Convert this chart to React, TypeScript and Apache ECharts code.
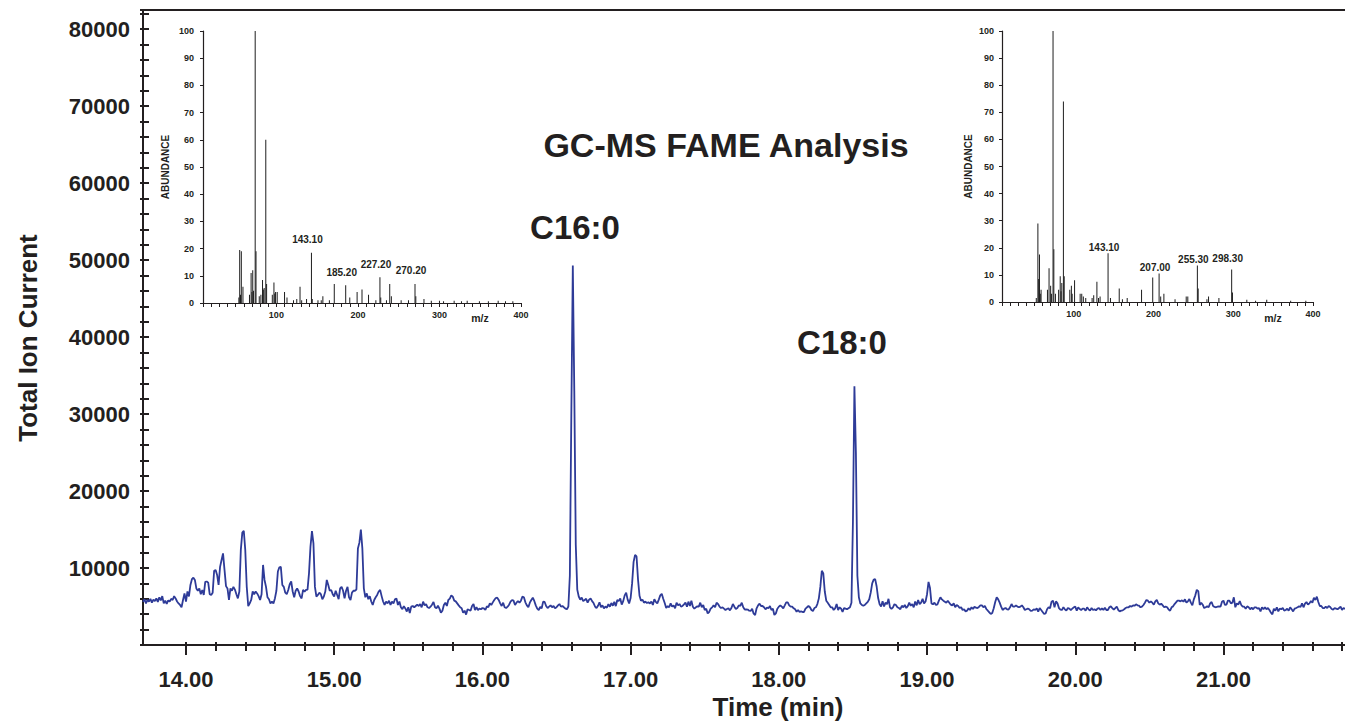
import React, { useEffect, useRef } from 'react';
import * as echarts from 'echarts';

// ---------------- DATA ----------------
// Total ion current chromatogram, sampled every 0.01 min from 13.71 min
const startMinute = 13.71;
const minuteStep = 0.01;
const ticCounts = [
  5600, 5950, 5400, 5850, 5650, 6000, 5500, 5900, 5700, 6050,
  5600, 6200, 5800, 6350, 5400, 5750, 5350, 5800, 5650, 6000,
  5850, 6350, 6050, 5650, 5400, 5200, 4900, 5850, 6700, 5650,
  6950, 6300, 7800, 8550, 8750, 8450, 7350, 7050, 7350, 6600,
  7150, 6500, 8200, 8250, 8100, 6600, 6500, 6800, 9650, 9750,
  9100, 7800, 10150, 11050, 11900, 9750, 7650, 7350, 5850, 7350,
  7050, 7550, 7200, 6600, 6050, 6950, 12350, 14600, 14850, 12350,
  7550, 5050, 5400, 5850, 6950, 6600, 6950, 6700, 6350, 5850,
  6600, 10400, 8450, 7550, 6200, 5950, 5400, 5650, 5400, 6050,
  7050, 9550, 10100, 10150, 7800, 7550, 6800, 6600, 7150, 7900,
  8250, 6950, 6200, 7050, 7350, 6950, 6350, 6050, 7150, 6950,
  7150, 7200, 9300, 12800, 14800, 13200, 7550, 6300, 6500, 6800,
  6600, 5950, 6300, 6950, 8450, 7800, 7050, 7150, 6600, 6300,
  7050, 6500, 5950, 7350, 7550, 7050, 6050, 7050, 7550, 6200,
  5850, 6800, 7050, 7050, 7200, 12550, 13300, 15000, 12550, 7350,
  6200, 6700, 5950, 6350, 5650, 5200, 5850, 6200, 6500, 6950,
  7150, 6350, 5650, 5200, 5650, 5400, 5750, 5200, 5650, 5400,
  5950, 6050, 5200, 5650, 4900, 4650, 5050, 4750, 4350, 4900,
  4150, 4980, 5070, 4900, 5070, 5240, 5070, 5320, 4900, 5630,
  5150, 5320, 4900, 4800, 4980, 5240, 5600, 4900, 4770, 5100,
  4720, 4200, 4460, 5200, 5500, 5070, 5850, 6020, 6450, 6280,
  5760, 5670, 5410, 5150, 4900, 4770, 4200, 4460, 3950, 4640,
  4550, 4460, 5070, 5320, 4550, 4900, 4550, 4720, 4640, 4800,
  4770, 4550, 5020, 4900, 5410, 5200, 5540, 5850, 6100, 6150,
  5850, 5410, 5070, 5500, 4900, 4800, 4980, 5240, 5630, 5850,
  5760, 5200, 5500, 5720, 5500, 5760, 6280, 6200, 5540, 5150,
  4900, 5500, 5850, 6150, 5720, 5150, 4720, 4550, 4940, 4770,
  5630, 5590, 5070, 4800, 4980, 5150, 4900, 5070, 4770, 4900,
  5150, 5320, 4980, 5070, 4900, 4720, 4640, 5000, 9000, 30000,
  49300, 33000, 13000, 7200, 6300, 5900, 6150, 5700, 5850, 6000,
  5500, 5900, 6050, 5700, 5450, 5000, 4800, 5100, 5550, 4900,
  5150, 4750, 5000, 4850, 5300, 4980, 5450, 5100, 5600, 5050,
  5850, 5700, 6050, 5250, 5700, 6450, 6800, 5900, 5400, 6100,
  8000, 10800, 11700, 11500, 8500, 6400, 5750, 5900, 5500, 5650,
  5450, 5550, 5400, 5650, 5200, 5950, 5600, 5400, 5900, 6450,
  6650, 6000, 5450, 4800, 5050, 4900, 5400, 4980, 5150, 4770,
  5500, 5150, 5320, 4980, 5070, 5280, 5500, 4980, 5630, 5070,
  5760, 4980, 4720, 4900, 5020, 4980, 5500, 4900, 5200, 4550,
  4720, 4110, 4290, 4720, 4900, 5150, 4900, 5500, 5320, 4980,
  4800, 4900, 4720, 4550, 4680, 4770, 4500, 4800, 5320, 4980,
  4680, 4800, 5150, 5070, 5500, 4900, 4600, 4640, 4600, 4460,
  4420, 4720, 4070, 3900, 4770, 5150, 5370, 5070, 5070, 4900,
  4640, 4850, 4770, 5070, 4550, 4720, 3900, 4110, 4720, 4980,
  5150, 4980, 4770, 5150, 5540, 5540, 5150, 4980, 4980, 4770,
  4640, 4330, 4550, 4290, 4370, 4290, 4290, 4720, 4900, 5070,
  4900, 4550, 4420, 4800, 4900, 5320, 6060, 7550, 9650, 9300,
  6950, 5760, 5500, 5200, 4900, 4900, 4550, 4770, 5320, 4550,
  4900, 4720, 4290, 4800, 4720, 4640, 4770, 4900, 5500, 16000,
  33600, 25000, 9000, 6200, 5400, 5200, 5100, 5200, 5400, 5600,
  5950, 6800, 8000, 8500, 8550, 7600, 6100, 5300, 5000, 5700,
  5000, 5500, 5300, 6000, 4900, 4700, 4900, 5300, 5200, 4900,
  4800, 4650, 5100, 4900, 5200, 4800, 5050, 5500, 5100, 5300,
  4900, 5650, 5150, 5850, 5300, 5500, 6000, 5400, 5650, 6600,
  8200, 7400, 5400, 5280, 5500, 5200, 5280, 5760, 6190, 5930,
  5760, 5630, 5500, 5760, 5500, 5240, 5150, 5410, 4900, 5200,
  5070, 4800, 4900, 4550, 4640, 4370, 4460, 4770, 4550, 4900,
  4680, 4980, 4850, 4800, 4940, 5150, 5150, 4900, 5070, 4680,
  4460, 4250, 4030, 4160, 4770, 5590, 6190, 5930, 5500, 4980,
  4550, 4720, 4800, 4640, 4600, 4900, 5320, 4980, 4980, 5150,
  4980, 4900, 4980, 5150, 4900, 4550, 4640, 4720, 4640, 4420,
  4460, 4640, 4550, 4770, 4330, 4800, 4550, 4290, 4030, 4110,
  4640, 4900, 4770, 5630, 5760, 4900, 5670, 5410, 4800, 4600,
  4550, 4900, 4640, 4460, 4800, 4720, 4550, 4720, 4900, 4980,
  4460, 4900, 4680, 4550, 4720, 4720, 4460, 4900, 4640, 4460,
  4800, 4550, 4640, 4500, 4720, 4800, 4550, 4770, 4550, 4850,
  4550, 4550, 4900, 5020, 4800, 4600, 4800, 4980, 4550, 4370,
  4460, 4500, 4640, 4800, 4900, 4900, 5070, 4980, 5150, 5100,
  5280, 5150, 5100, 4900, 4980, 5200, 5500, 5850, 5760, 5500,
  5670, 5500, 5240, 5670, 5850, 5410, 5240, 5370, 5150, 4900,
  4980, 4900, 4600, 4460, 4900, 5020, 5320, 5540, 5760, 5760,
  5670, 5800, 5630, 5930, 5500, 5670, 5970, 5500, 5150, 5930,
  6450, 7170, 7000, 5200, 5500, 5240, 4800, 4900, 5020, 4900,
  5410, 5590, 5070, 4940, 4900, 4980, 5020, 4980, 5630, 5760,
  5200, 5240, 5760, 5760, 5410, 5500, 6190, 4900, 5410, 5240,
  5720, 5200, 4980, 4980, 4720, 5020, 4900, 4640, 4850, 4640,
  4900, 4900, 4720, 4800, 4370, 4900, 4640, 4900, 4640, 4800,
  4550, 4200, 3990, 4720, 4460, 4900, 4370, 4720, 4640, 4800,
  4460, 4550, 4720, 4460, 4900, 4640, 4370, 4720, 4800, 4900,
  5020, 4940, 5410, 4900, 5370, 5590, 5240, 5410, 5720, 5500,
  6150, 5850, 6280, 5590, 5070, 5070, 4800, 4800, 4980, 4800,
  5070, 4940, 4680, 4600, 4800, 4720, 4640, 4800, 4980, 4550,
  4800, 4720, 4640,
];

// axis ranges and tick labels
const timeMin = 13.71;
const timeMax = 21.82;
const timeMajorTicks = [14, 15, 16, 17, 18, 19, 20, 21];
const timeMinorTicks = [
  14.2, 14.4, 14.6, 14.8, 15.2, 15.4, 15.6, 15.8, 16.2, 16.4, 16.6, 16.8,
  17.2, 17.4, 17.6, 17.8, 18.2, 18.4, 18.6, 18.8, 19.2, 19.4, 19.6, 19.8,
  20.2, 20.4, 20.6, 20.8, 21.2, 21.4, 21.6, 21.8,
];
const ticMax = 82500;

// Peak annotations
const peakNames = ['C16:0', 'C18:0'];

// Inset 1 : mass spectrum of C16:0
const spec1Mz = [54, 55, 56, 57, 59, 67, 69, 70, 71, 72, 74, 75, 79, 81, 83, 84, 85, 87, 88, 95, 97, 98, 99, 101, 110, 113, 121, 125, 129, 131, 137, 143, 144, 151, 155, 157, 165, 171, 185, 190, 199, 205, 213, 222, 227, 228, 235, 239, 241, 253, 262, 270, 271, 281, 290, 300, 305, 318, 327, 334, 349, 360, 372, 381, 390];
const spec1Ab = [2, 19.5, 3, 19, 6, 3, 11, 4, 12, 4.5, 100, 19, 2.5, 3, 8.5, 5, 5.5, 60, 7, 3, 7.5, 3.5, 4, 4, 4, 2, 1, 1.5, 6, 1, 1.5, 18.5, 1.5, 1, 1, 2.5, 1, 7, 6.5, 2, 4, 5, 3, 1, 9.5, 2, 1, 7, 2.5, 1, 1, 7, 2.5, 1.5, 0.8, 0.8, 0.6, 0.8, 0.6, 0.8, 0.6, 0.6, 0.8, 0.6, 0.6];
const spec1LabelMz = [143, 185, 227, 270];
const spec1LabelText = ['143.10', '185.20', '227.20', '270.20'];
const spec1LabelGap = [8, 8, 8, 8];

// Inset 2 : mass spectrum of C18:0
const spec2Mz = [53, 55, 56, 57, 58, 59, 67, 69, 71, 72, 74, 75, 77, 81, 83, 84, 85, 87, 88, 95, 97, 98, 101, 108, 110, 112, 115, 123, 125, 129, 131, 133, 143, 146, 157, 161, 167, 185, 199, 207, 209, 213, 227, 241, 243, 255, 256, 267, 269, 282, 298, 299, 317, 328, 342, 372, 391];
const spec2Ab = [1.5, 29, 8.5, 17.5, 3, 4.5, 4.5, 12.5, 6, 3, 100, 19.5, 3, 4.5, 9.5, 4, 7, 74, 9.5, 4.5, 6, 3, 8, 3, 3, 2, 1.5, 1.5, 2.5, 7.5, 1.5, 2, 18, 1.5, 5, 1, 1.5, 4.5, 9, 10.5, 2, 3, 1, 2, 2, 13.5, 5, 1, 2, 1.5, 12, 3.5, 0.8, 0.5, 0.8, 0.5, 0.5];
const spec2LabelMz = [143, 207, 255, 298];
const spec2LabelText = ['143.10', '207.00', '255.30', '298.30'];
const spec2LabelGap = [1, 1, 1, 6];

// ---------------- STYLE ----------------
const FONT = '"Liberation Sans", Arial, Helvetica, sans-serif';
const INK = '#231f20';
const TRACE = '#2e3b98';

function specData(mz: number[], ab: number[], lMz: number[], lText: string[], lGap: number[]) {
  return mz.map((m, i) => {
    const k = lMz.indexOf(m);
    if (k < 0) return [m, ab[i]];
    return {
      value: [m, ab[i]],
      label: {
        show: true,
        position: 'top',
        distance: lGap[k],
        offset: [-4, 0],
        formatter: lText[k],
        fontSize: 10,
        fontWeight: 'bold',
        fontFamily: FONT,
        color: INK,
      },
    };
  });
}

function insetX(gridIndex: number) {
  return {
    gridIndex,
    type: 'value',
    min: 10,
    max: 400,
    interval: 10,
    position: 'bottom',
    axisLine: { show: true, onZero: false, lineStyle: { color: INK, width: 1.2 } },
    axisTick: { show: true, length: 4, lineStyle: { color: INK, width: 1 } },
    axisLabel: {
      margin: 7,
      fontSize: 9,
      fontWeight: 'bold',
      fontFamily: FONT,
      color: INK,
      formatter: (v: number) => (v % 100 === 0 ? String(v) : ''),
    },
    splitLine: { show: false },
  };
}

function insetY(gridIndex: number, gap: number, margin: number) {
  return {
    gridIndex,
    type: 'value',
    min: 0,
    max: 100,
    interval: 10,
    name: 'ABUNDANCE',
    nameLocation: 'middle',
    nameRotate: 90,
    nameGap: gap,
    nameTextStyle: { fontSize: 10, fontWeight: 'bold', fontFamily: FONT, color: INK },
    axisLine: { show: true, onZero: false, lineStyle: { color: INK, width: 1.2 } },
    axisTick: { show: true, length: 3, lineStyle: { color: INK, width: 1 } },
    axisLabel: { margin, fontSize: 9, fontWeight: 'bold', fontFamily: FONT, color: INK },
    splitLine: { show: false },
  };
}

function buildOption() {
  const trace = ticCounts.map((v, i) => [+(startMinute + i * minuteStep).toFixed(2), v]);
  const axisLineStyle = { color: INK, width: 2 };
  return {
    animation: false,
    backgroundColor: '#ffffff',
    textStyle: { fontFamily: FONT },
    grid: [
      { left: 143, top: 10, width: 1202, height: 635 },
      { left: 203, top: 31, width: 318, height: 272 },
      { left: 1002, top: 31, width: 311, height: 271 },
    ],
    xAxis: [
      {
        gridIndex: 0, type: 'value', min: timeMin, max: timeMax, position: 'bottom',
        axisLine: { show: true, onZero: false, lineStyle: axisLineStyle },
        axisTick: { show: true, customValues: timeMajorTicks, length: 10, lineStyle: { color: INK, width: 2 } },
        axisLabel: {
          customValues: timeMajorTicks,
          formatter: (v: number) => v.toFixed(2),
          margin: 23, fontSize: 22, fontWeight: 'bold', fontFamily: FONT, color: INK,
        },
        splitLine: { show: false },
      },
      {
        gridIndex: 0, type: 'value', min: timeMin, max: timeMax, position: 'bottom',
        axisLine: { show: false },
        axisTick: { show: true, customValues: timeMinorTicks, length: 6, lineStyle: { color: INK, width: 2 } },
        axisLabel: { show: false },
        splitLine: { show: false },
      },
      {
        gridIndex: 0, type: 'value', min: timeMin, max: timeMax, position: 'bottom',
        axisLine: { show: false },
        axisTick: { show: true, inside: true, customValues: timeMajorTicks.concat(timeMinorTicks), length: 3, lineStyle: { color: INK, width: 2 } },
        axisLabel: { show: false },
        splitLine: { show: false },
      },
      {
        gridIndex: 0, type: 'value', min: timeMin, max: timeMax, position: 'top',
        axisLine: { show: true, onZero: false, lineStyle: axisLineStyle },
        axisTick: { show: false },
        axisLabel: { show: false },
        splitLine: { show: false },
      },
      insetX(1),
      insetX(2),
    ],
    yAxis: [
      {
        gridIndex: 0, type: 'value', min: 0, max: ticMax, interval: 2000, position: 'left',
        axisLine: { show: true, onZero: false, lineStyle: axisLineStyle },
        axisTick: { show: true, length: 3, lineStyle: { color: INK, width: 2 } },
        axisLabel: {
          margin: 13, fontSize: 22, fontWeight: 'bold', fontFamily: FONT, color: INK,
          formatter: (v: number) => (v > 0 && v % 10000 === 0 ? String(v) : ''),
        },
        splitLine: { show: false },
      },
      {
        gridIndex: 0, type: 'value', min: 0, max: ticMax, interval: 2000, position: 'left',
        axisLine: { show: false },
        axisTick: { show: true, inside: true, length: 6, lineStyle: { color: INK, width: 2 } },
        axisLabel: { show: false },
        splitLine: { show: false },
      },
      insetY(1, 33, 9),
      insetY(2, 29, 8),
    ],
    series: [
      {
        type: 'line',
        xAxisIndex: 0,
        yAxisIndex: 0,
        data: trace,
        showSymbol: false,
        symbol: 'none',
        lineStyle: { color: TRACE, width: 1.8 },
        z: 3,
      },
      {
        type: 'bar',
        xAxisIndex: 4,
        yAxisIndex: 2,
        barWidth: 1,
        itemStyle: { color: '#1e1e1e' },
        data: specData(spec1Mz, spec1Ab, spec1LabelMz, spec1LabelText, spec1LabelGap),
      },
      {
        type: 'bar',
        xAxisIndex: 5,
        yAxisIndex: 3,
        barWidth: 1,
        itemStyle: { color: '#1e1e1e' },
        data: specData(spec2Mz, spec2Ab, spec2LabelMz, spec2LabelText, spec2LabelGap),
      },
    ],
    graphic: [
      {
        type: 'text', x: 726, y: 145,
        style: { text: 'GC-MS FAME Analysis', font: `bold 34px ${FONT}`, fill: INK, align: 'center', verticalAlign: 'middle' },
      },
      {
        type: 'text', x: 575, y: 227,
        style: { text: peakNames[0], font: `bold 33px ${FONT}`, fill: INK, align: 'center', verticalAlign: 'middle' },
      },
      {
        type: 'text', x: 842, y: 342,
        style: { text: peakNames[1], font: `bold 33px ${FONT}`, fill: INK, align: 'center', verticalAlign: 'middle' },
      },
      {
        type: 'text', x: 28, y: 338, rotation: Math.PI / 2,
        style: { text: 'Total Ion Current', font: `bold 26px ${FONT}`, fill: INK, align: 'center', verticalAlign: 'middle' },
      },
      {
        type: 'text', x: 778, y: 707,
        style: { text: 'Time (min)', font: `bold 26px ${FONT}`, fill: INK, align: 'center', verticalAlign: 'middle' },
      },
      {
        type: 'text', x: 480, y: 318,
        style: { text: 'm/z', font: `bold 10.5px ${FONT}`, fill: INK, align: 'center', verticalAlign: 'middle' },
      },
      {
        type: 'text', x: 1273, y: 318,
        style: { text: 'm/z', font: `bold 10.5px ${FONT}`, fill: INK, align: 'center', verticalAlign: 'middle' },
      },
    ],
  };
}

export default function App() {
  const ref = useRef<HTMLDivElement>(null);
  useEffect(() => {
    if (!ref.current) return;
    const chart = echarts.init(ref.current, undefined, { renderer: 'svg' });
    chart.setOption(buildOption() as any);
    return () => {
      chart.dispose();
    };
  }, []);
  return (
    <div
      ref={ref}
      style={{ position: 'absolute', left: 0, top: 0, width: 1345, height: 723, background: '#ffffff' }}
    />
  );
}
